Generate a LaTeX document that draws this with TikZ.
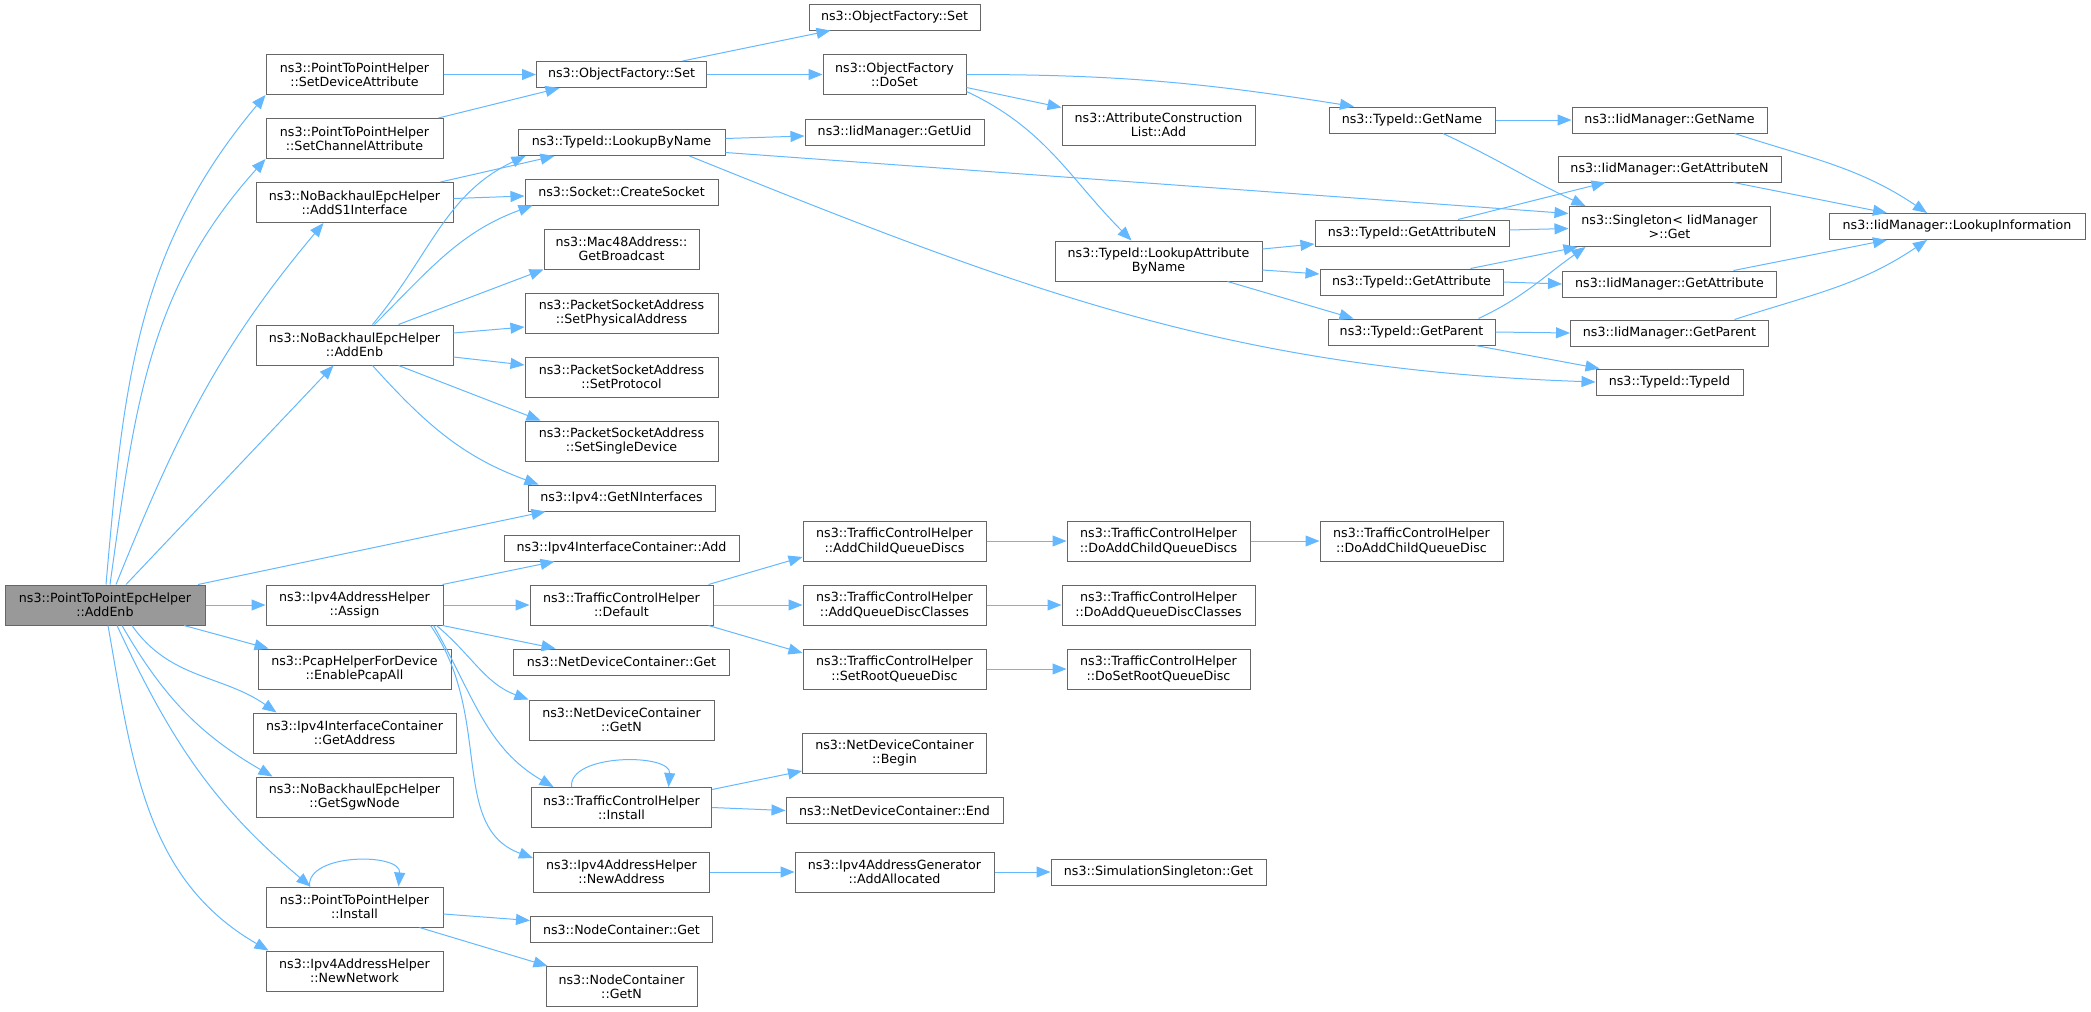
\documentclass[tikz,border=0pt]{standalone}
\usepackage{fontspec}
\setmainfont{DejaVu Sans}
\usepackage{tikz}
\usetikzlibrary{arrows.meta}

\definecolor{callblue}{HTML}{63B8FF}
\definecolor{boxline}{HTML}{666666}
\definecolor{rootfill}{HTML}{999999}
\newcommand{\cgfont}{\fontsize{12.65pt}{14.3pt}\selectfont}

\begin{document}
\begin{tikzpicture}[x=1pt, y=1pt,
    fn/.style={draw=boxline, fill=white, line width=1pt, inner sep=0pt, align=center, font=\cgfont, minimum height=26},
    fn2/.style={fn, minimum height=40},
    root/.style={fn2, fill=rootfill},
    call/.style={draw=callblue, line width=1pt, -{Triangle[length=14pt, width=11pt]}}]
    \useasboundingbox (0,0) rectangle (2091,-1012);

    % caller
    \node[root, minimum width=200] (main) at (105,-605) {ns3::PointToPointEpcHelper\\::AddEnb};

    % first level
    \node[fn2, minimum width=177] (setdev) at (354.5,-74.5) {ns3::PointToPointHelper\\::SetDeviceAttribute};
    \node[fn2, minimum width=177] (setchan) at (354.5,-138.5) {ns3::PointToPointHelper\\::SetChannelAttribute};
    \node[fn2, minimum width=197] (adds1) at (354.5,-202.5) {ns3::NoBackhaulEpcHelper\\::AddS1Interface};
    \node[fn2, minimum width=197] (nbenb) at (354.5,-345) {ns3::NoBackhaulEpcHelper\\::AddEnb};
    \node[fn2, minimum width=177] (assign) at (354.5,-605) {ns3::Ipv4AddressHelper\\::Assign};
    \node[fn2, minimum width=193] (pcap) at (354.5,-669) {ns3::PcapHelperForDevice\\::EnablePcapAll};
    \node[fn2, minimum width=203] (getaddr) at (354.5,-733) {ns3::Ipv4InterfaceContainer\\::GetAddress};
    \node[fn2, minimum width=197] (sgw) at (354.5,-797) {ns3::NoBackhaulEpcHelper\\::GetSgwNode};
    \node[fn2, minimum width=177] (p2pinst) at (354.5,-907) {ns3::PointToPointHelper\\::Install};
    \node[fn2, minimum width=177] (newnet) at (354.5,-971) {ns3::Ipv4AddressHelper\\::NewNetwork};

    % second level
    \node[fn, minimum width=170] (ofset) at (621.5,-74.5) {ns3::ObjectFactory::Set};
    \node[fn, minimum width=207] (lookup) at (621.5,-142.5) {ns3::TypeId::LookupByName};
    \node[fn, minimum width=193] (socket) at (621.5,-192) {ns3::Socket::CreateSocket};
    \node[fn2, minimum width=155] (mac48) at (621.5,-249) {ns3::Mac48Address::\\GetBroadcast};
    \node[fn2, minimum width=193] (setphys) at (621.5,-313) {ns3::PacketSocketAddress\\::SetPhysicalAddress};
    \node[fn2, minimum width=193] (setproto) at (621.5,-377) {ns3::PacketSocketAddress\\::SetProtocol};
    \node[fn2, minimum width=193] (setsingle) at (621.5,-441) {ns3::PacketSocketAddress\\::SetSingleDevice};
    \node[fn, minimum width=187] (getnif) at (621.5,-498) {ns3::Ipv4::GetNInterfaces};
    \node[fn, minimum width=235] (ifcadd) at (621.5,-548) {ns3::Ipv4InterfaceContainer::Add};
    \node[fn2, minimum width=183] (tchdef) at (621.5,-605) {ns3::TrafficControlHelper\\::Default};
    \node[fn, minimum width=216] (ndcget) at (621.5,-662) {ns3::NetDeviceContainer::Get};
    \node[fn2, minimum width=185] (ndcgetn) at (621.5,-720) {ns3::NetDeviceContainer\\::GetN};
    \node[fn2, minimum width=180] (tchinst) at (621.5,-807.5) {ns3::TrafficControlHelper\\::Install};
    \node[fn2, minimum width=176] (newaddr) at (621.5,-872) {ns3::Ipv4AddressHelper\\::NewAddress};
    \node[fn, minimum width=182] (ncget) at (621.5,-929.5) {ns3::NodeContainer::Get};
    \node[fn2, minimum width=151] (ncgetn) at (621.5,-986.5) {ns3::NodeContainer\\::GetN};

    % third level
    \node[fn, minimum width=171] (ofsetb) at (894.5,-17) {ns3::ObjectFactory::Set};
    \node[fn2, minimum width=143] (doset) at (894.5,-74.5) {ns3::ObjectFactory\\::DoSet};
    \node[fn, minimum width=179] (getuid) at (894.5,-132) {ns3::IidManager::GetUid};
    \node[fn2, minimum width=183] (addchild) at (894.5,-541) {ns3::TrafficControlHelper\\::AddChildQueueDiscs};
    \node[fn2, minimum width=183] (addclasses) at (894.5,-605) {ns3::TrafficControlHelper\\::AddQueueDiscClasses};
    \node[fn2, minimum width=183] (setroot) at (894.5,-669) {ns3::TrafficControlHelper\\::SetRootQueueDisc};
    \node[fn2, minimum width=184] (ndcbegin) at (894.5,-753) {ns3::NetDeviceContainer\\::Begin};
    \node[fn, minimum width=217] (ndcend) at (894.5,-810.5) {ns3::NetDeviceContainer::End};
    \node[fn2, minimum width=199] (addalloc) at (894.5,-872) {ns3::Ipv4AddressGenerator\\::AddAllocated};

    % fourth level
    \node[fn2, minimum width=193] (attradd) at (1158.5,-125) {ns3::AttributeConstruction\\List::Add};
    \node[fn2, minimum width=207] (lookupattr) at (1158.5,-261) {ns3::TypeId::LookupAttribute\\ByName};
    \node[fn2, minimum width=183] (doaddchilds) at (1158.5,-541) {ns3::TrafficControlHelper\\::DoAddChildQueueDiscs};
    \node[fn2, minimum width=193] (doaddclasses) at (1158.5,-605) {ns3::TrafficControlHelper\\::DoAddQueueDiscClasses};
    \node[fn2, minimum width=183] (dosetroot) at (1158.5,-669) {ns3::TrafficControlHelper\\::DoSetRootQueueDisc};
    \node[fn, minimum width=215] (simget) at (1158.5,-872) {ns3::SimulationSingleton::Get};

    % fifth level
    \node[fn, minimum width=166] (tgetname) at (1412,-120) {ns3::TypeId::GetName};
    \node[fn, minimum width=194] (tgetattrn) at (1412,-233) {ns3::TypeId::GetAttributeN};
    \node[fn, minimum width=183] (tgetattr) at (1411.5,-282) {ns3::TypeId::GetAttribute};
    \node[fn, minimum width=167] (tgetparent) at (1411.5,-332) {ns3::TypeId::GetParent};
    \node[fn2, minimum width=183] (doaddchild) at (1411.5,-541) {ns3::TrafficControlHelper\\::DoAddChildQueueDisc};

    % sixth and seventh level
    \node[fn, minimum width=195] (igetname) at (1669.5,-120) {ns3::IidManager::GetName};
    \node[fn, minimum width=223] (igetattrn) at (1669.5,-169) {ns3::IidManager::GetAttributeN};
    \node[fn2, minimum width=201] (singleton) at (1669.5,-226.5) {ns3::Singleton< IidManager\\>::Get};
    \node[fn, minimum width=214] (igetattr) at (1669.5,-284) {ns3::IidManager::GetAttribute};
    \node[fn, minimum width=198] (igetparent) at (1669.5,-333) {ns3::IidManager::GetParent};
    \node[fn, minimum width=147] (typeid) at (1669.5,-382) {ns3::TypeId::TypeId};
    \node[fn, minimum width=256] (lookupinfo) at (1957,-226.5) {ns3::IidManager::LookupInformation};

    % calls from the root
    \draw[call] ([xshift=1]main.north) to[out=85,in=230] (setdev.south west);
    \draw[call] ([xshift=5]main.north) to[out=82,in=228] (setchan.south west);
    \draw[call] ([xshift=11]main.north) to[out=68,in=230] ([xshift=-31]adds1.south);
    \draw[call] ([xshift=21]main.north) -- ([xshift=-21]nbenb.south);
    \draw[call] ([xshift=93]main.north) -- ([xshift=-76]getnif.south);
    \draw[call] (main) -- (assign);
    \draw[call] ([xshift=79]main.south) -- ([xshift=-86]pcap.north);
    \draw[call] ([xshift=27]main.south) to[out=-55,in=145] ([xshift=-78]getaddr.north);
    \draw[call] ([xshift=17]main.south) to[out=-60,in=150] ([xshift=-82]sgw.north);
    \draw[call] ([xshift=12]main.south) to[out=-65,in=140] ([xshift=-44]p2pinst.north);
    \draw[call] ([xshift=3]main.south) to[out=-80,in=150] ([xshift=3]newnet.north west);

    % object factory
    \draw[call] (setdev) -- (ofset);
    \draw[call] ([xshift=84]setchan.north) -- ([xshift=-62]ofset.south);
    \draw[call] ([xshift=61]ofset.north) -- ([xshift=-64]ofsetb.south);
    \draw[call] (ofset) -- (doset);
    \draw[call] (doset.east) to[out=0,in=171] ([xshift=-58]tgetname.north);
    \draw[call] ([yshift=-13]doset.east) -- ([yshift=-3]attradd.north west);
    \draw[call] ([yshift=-17]doset.east) to[out=-25,in=135] ([xshift=-27]lookupattr.north);

    % epc helper
    \draw[call] ([xshift=86]adds1.north) -- ([xshift=-67]lookup.south);
    \draw[call] ([yshift=4]adds1.east) -- ([yshift=-4]socket.west);
    \draw[call] ([xshift=18]nbenb.north) to[out=50,in=205] ([xshift=8]lookup.south west);
    \draw[call] ([xshift=20]nbenb.north) to[out=45,in=200] ([xshift=8]socket.south west);
    \draw[call] ([xshift=44]nbenb.north) -- (mac48.south west);
    \draw[call] ([yshift=12]nbenb.east) -- ([yshift=-14]setphys.west);
    \draw[call] ([yshift=-12]nbenb.east) -- ([yshift=12]setproto.west);
    \draw[call] ([xshift=44]nbenb.south) -- ([xshift=-81]setsingle.north);
    \draw[call] ([xshift=18]nbenb.south) to[out=-48,in=160] ([xshift=-83]getnif.north);

    % type id
    \draw[call] ([yshift=4]lookup.east) -- ([yshift=-4]getuid.west);
    \draw[call] ([yshift=-10]lookup.east) -- ([yshift=13]singleton.west);
    \draw[call] ([xshift=68]lookup.south) to[out=-22,in=178] (typeid.west);
    \draw[call] ([yshift=12]lookupattr.east) -- ([yshift=-11]tgetattrn.west);
    \draw[call] ([yshift=-9]lookupattr.east) -- ([yshift=8]tgetattr.west);
    \draw[call] ([xshift=69]lookupattr.south) -- ([xshift=-58]tgetparent.north);
    \draw[call] (tgetname) -- (igetname);
    \draw[call] ([xshift=31]tgetname.south) to[out=-25,in=155] ([xshift=-84]singleton.north);
    \draw[call] ([xshift=46]tgetattrn.north) -- ([xshift=-64]igetattrn.south);
    \draw[call] ([yshift=3]tgetattrn.east) -- ([yshift=-2]singleton.west);
    \draw[call] ([xshift=59]tgetattr.north) -- ([xshift=-92]singleton.south);
    \draw[call] (tgetattr.east) -- (igetattr.west);
    \draw[call] ([xshift=67]tgetparent.north) to[out=25,in=-145] ([xshift=-84]singleton.south);
    \draw[call] (tgetparent.east) -- (igetparent.west);
    \draw[call] ([xshift=64]tgetparent.south) -- ([xshift=-70]typeid.north);
    \draw[call] ([xshift=65]igetname.south) to[out=-18,in=146] ([xshift=-30]lookupinfo.north);
    \draw[call] ([xshift=64]igetattrn.south) -- ([xshift=-70]lookupinfo.north);
    \draw[call] ([xshift=64]igetattr.north) -- ([xshift=-70]lookupinfo.south);
    \draw[call] ([xshift=65]igetparent.north) to[out=18,in=-146] ([xshift=-30]lookupinfo.south);

    % address helper and traffic control
    \draw[call] ([xshift=88]assign.north) -- ([xshift=-67]ifcadd.south);
    \draw[call] (assign) -- (tchdef);
    \draw[call] ([xshift=88]assign.south) -- ([xshift=-66]ndcget.north);
    \draw[call] ([xshift=82]assign.south) to[out=-40,in=160] (ndcgetn.north west);
    \draw[call] ([xshift=79]assign.south) to[out=-60,in=150] ([xshift=-68]tchinst.north);
    \draw[call] ([xshift=76]assign.south) .. controls +(-55:110) and +(160:90) .. ([yshift=14]newaddr.west);
    \draw[call] ([xshift=87]tchdef.north) -- ([yshift=-16]addchild.west);
    \draw[call] (tchdef) -- (addclasses);
    \draw[call] ([xshift=87]tchdef.south) -- ([yshift=16]setroot.west);
    \draw[call] (addchild) -- (doaddchilds);
    \draw[call] (doaddchilds) -- (doaddchild);
    \draw[call] (addclasses) -- (doaddclasses);
    \draw[call] (setroot) -- (dosetroot);
    \draw[call] ([xshift=-50]tchinst.north) .. controls +(95:34) and +(85:34) .. ([xshift=47]tchinst.north);
    \draw[call] ([yshift=18]tchinst.east) -- ([yshift=-18]ndcbegin.west);
    \draw[call] (tchinst.east) -- (ndcend.west);
    \draw[call] (newaddr) -- (addalloc);
    \draw[call] (addalloc) -- (simget);

    % point to point install
    \draw[call] ([xshift=-45]p2pinst.north) .. controls +(95:34) and +(85:34) .. ([xshift=44]p2pinst.north);
    \draw[call] ([yshift=-7]p2pinst.east) -- ([yshift=9]ncget.west);
    \draw[call] ([xshift=65]p2pinst.south) -- ([xshift=-74]ncgetn.north);
\end{tikzpicture}
\end{document}
